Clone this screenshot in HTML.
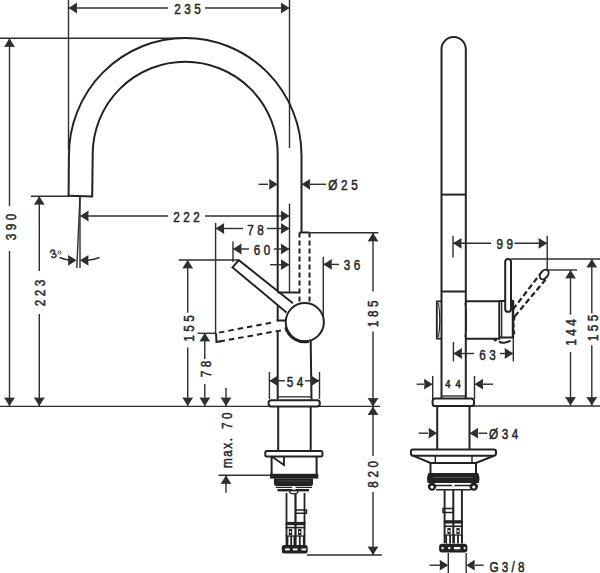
<!DOCTYPE html>
<html><head><meta charset="utf-8"><style>
html,body{margin:0;padding:0;background:#fff;width:600px;height:573px;overflow:hidden}
svg{display:block}
.t{font-family:"Liberation Sans",sans-serif;fill:#262626;stroke:#262626;stroke-width:0.5px}
</style></head><body>
<svg width="600" height="573" viewBox="0 0 600 573" stroke-linecap="butt">
<line x1="68.5" y1="0" x2="68.5" y2="150" stroke="#2e2e2e" stroke-width="1.4" />
<line x1="289.5" y1="0" x2="289.5" y2="148" stroke="#2e2e2e" stroke-width="1.4" />
<line x1="68.5" y1="8" x2="168" y2="8" stroke="#2e2e2e" stroke-width="1.4" />
<line x1="205" y1="8" x2="289.5" y2="8" stroke="#2e2e2e" stroke-width="1.4" />
<path d="M68.50,8.00 L77.10,2.60 L76.84,8.00 L77.10,13.40 Z" fill="#2e2e2e"/>
<path d="M289.50,8.00 L280.90,13.40 L281.16,8.00 L280.90,2.60 Z" fill="#2e2e2e"/>
<g transform="translate(187.5,8.5) scale(0.85,1)"><text x="2.10" y="0.8" class="t" text-anchor="middle" dominant-baseline="central" style="font-size:13.8px;letter-spacing:4.2px">235</text></g>
<line x1="0" y1="38.3" x2="185" y2="38.3" stroke="#2e2e2e" stroke-width="1.4" />
<line x1="9.5" y1="38.3" x2="9.5" y2="206" stroke="#2e2e2e" stroke-width="1.4" />
<line x1="9.5" y1="251" x2="9.5" y2="406" stroke="#2e2e2e" stroke-width="1.4" />
<path d="M9.50,38.30 L14.90,46.90 L9.50,46.64 L4.10,46.90 Z" fill="#2e2e2e"/>
<path d="M9.50,406.00 L4.10,397.40 L9.50,397.66 L14.90,397.40 Z" fill="#2e2e2e"/>
<g transform="translate(10.0,227) rotate(-90) scale(0.85,1)"><text x="2.10" y="0.8" class="t" text-anchor="middle" dominant-baseline="central" style="font-size:13.8px;letter-spacing:4.2px">390</text></g>
<line x1="31" y1="196.2" x2="69" y2="196.2" stroke="#2e2e2e" stroke-width="1.4" />
<line x1="39.3" y1="196.2" x2="39.3" y2="271" stroke="#2e2e2e" stroke-width="1.4" />
<line x1="39.3" y1="314" x2="39.3" y2="406" stroke="#2e2e2e" stroke-width="1.4" />
<path d="M39.30,196.20 L44.70,204.80 L39.30,204.54 L33.90,204.80 Z" fill="#2e2e2e"/>
<path d="M39.30,406.00 L33.90,397.40 L39.30,397.66 L44.70,397.40 Z" fill="#2e2e2e"/>
<g transform="translate(39.8,293) rotate(-90) scale(0.85,1)"><text x="2.10" y="0.8" class="t" text-anchor="middle" dominant-baseline="central" style="font-size:13.8px;letter-spacing:4.2px">223</text></g>
<path d="M68.6,196 L68.90,155.5 A116.3,117.5 0 0 1 301.50,155.5 L301.50,232.5" stroke="#222222" stroke-width="2.0" fill="none" />
<path d="M92.2,196.5 L92.70,154.3 A92.5,92.5 0 0 1 277.70,154.3 L277.70,292" stroke="#222222" stroke-width="2.0" fill="none" />
<line x1="277.7" y1="305.5" x2="277.7" y2="321.3" stroke="#222222" stroke-width="2.0" />
<line x1="277.7" y1="331.5" x2="277.7" y2="399.5" stroke="#222222" stroke-width="2.0" />
<line x1="68" y1="195.8" x2="93" y2="196.6" stroke="#222222" stroke-width="2.0" />
<line x1="80" y1="196" x2="80" y2="268" stroke="#2e2e2e" stroke-width="1.4" />
<line x1="80" y1="196" x2="76.8" y2="268" stroke="#2e2e2e" stroke-width="1.4" />
<path d="M80.00,216.00 L88.60,210.60 L88.34,216.00 L88.60,221.40 Z" fill="#2e2e2e"/>
<line x1="258.6" y1="184.3" x2="268" y2="184.3" stroke="#2e2e2e" stroke-width="1.4" />
<path d="M277.70,184.30 L269.10,189.70 L269.36,184.30 L269.10,178.90 Z" fill="#2e2e2e"/>
<line x1="310" y1="184.3" x2="326" y2="184.3" stroke="#2e2e2e" stroke-width="1.4" />
<path d="M301.50,184.30 L310.10,178.90 L309.84,184.30 L310.10,189.70 Z" fill="#2e2e2e"/>
<g transform="translate(343,184.5) scale(0.85,1)"><text x="2.10" y="0.8" class="t" text-anchor="middle" dominant-baseline="central" style="font-size:13.8px;letter-spacing:4.2px">Ø25</text></g>
<path d="M59.5,257.5 Q64,259 69,260.3" stroke="#2e2e2e" stroke-width="1.4" fill="none" />
<path d="M76.60,260.30 L68.00,265.70 L68.26,260.30 L68.00,254.90 Z" fill="#2e2e2e"/>
<path d="M99.5,257.5 Q94,259.5 88,260.3" stroke="#2e2e2e" stroke-width="1.4" fill="none" />
<path d="M79.90,260.30 L88.50,254.90 L88.24,260.30 L88.50,265.70 Z" fill="#2e2e2e"/>
<g transform="translate(53,253.5) rotate(-18) scale(0.95,1)"><text x="0" y="0" class="t" text-anchor="middle" dominant-baseline="central" style="font-size:12px">3</text></g>
<circle cx="59.5" cy="252.5" r="1.5" fill="none" stroke="#2e2e2e" stroke-width="0.9"/>
<line x1="88" y1="216" x2="168" y2="216" stroke="#2e2e2e" stroke-width="1.4" />
<line x1="205" y1="216" x2="289.5" y2="216" stroke="#2e2e2e" stroke-width="1.4" />
<path d="M289.50,216.00 L280.90,221.40 L281.16,216.00 L280.90,210.60 Z" fill="#2e2e2e"/>
<g transform="translate(186.5,216.5) scale(0.85,1)"><text x="2.10" y="0.8" class="t" text-anchor="middle" dominant-baseline="central" style="font-size:13.8px;letter-spacing:4.2px">222</text></g>
<line x1="289.5" y1="203.5" x2="289.5" y2="292" stroke="#2e2e2e" stroke-width="1.4" />
<line x1="215.6" y1="223" x2="215.6" y2="333.5" stroke="#2e2e2e" stroke-width="1.4" />
<line x1="215.6" y1="228.5" x2="243" y2="228.5" stroke="#2e2e2e" stroke-width="1.4" />
<line x1="267" y1="228.5" x2="289.5" y2="228.5" stroke="#2e2e2e" stroke-width="1.4" />
<path d="M215.60,228.50 L224.20,223.10 L223.94,228.50 L224.20,233.90 Z" fill="#2e2e2e"/>
<path d="M289.50,228.50 L280.90,233.90 L281.16,228.50 L280.90,223.10 Z" fill="#2e2e2e"/>
<g transform="translate(255.5,229) scale(0.85,1)"><text x="2.10" y="0.8" class="t" text-anchor="middle" dominant-baseline="central" style="font-size:13.8px;letter-spacing:4.2px">78</text></g>
<line x1="233" y1="241.6" x2="233" y2="262" stroke="#2e2e2e" stroke-width="1.4" />
<line x1="233" y1="249" x2="249" y2="249" stroke="#2e2e2e" stroke-width="1.4" />
<line x1="274" y1="249" x2="289.5" y2="249" stroke="#2e2e2e" stroke-width="1.4" />
<path d="M233.00,249.00 L241.60,243.60 L241.34,249.00 L241.60,254.40 Z" fill="#2e2e2e"/>
<path d="M289.50,249.00 L280.90,254.40 L281.16,249.00 L280.90,243.60 Z" fill="#2e2e2e"/>
<g transform="translate(262,249.5) scale(0.85,1)"><text x="2.10" y="0.8" class="t" text-anchor="middle" dominant-baseline="central" style="font-size:13.8px;letter-spacing:4.2px">60</text></g>
<line x1="270" y1="264.7" x2="289.5" y2="264.7" stroke="#2e2e2e" stroke-width="1.4" />
<path d="M289.50,264.70 L280.90,270.10 L281.16,264.70 L280.90,259.30 Z" fill="#2e2e2e"/>
<line x1="323.3" y1="256.8" x2="323.3" y2="322" stroke="#2e2e2e" stroke-width="1.4" />
<line x1="323.3" y1="264.4" x2="339" y2="264.4" stroke="#2e2e2e" stroke-width="1.4" />
<path d="M323.30,264.40 L331.90,259.00 L331.64,264.40 L331.90,269.80 Z" fill="#2e2e2e"/>
<g transform="translate(352,264.8) scale(0.85,1)"><text x="2.10" y="0.8" class="t" text-anchor="middle" dominant-baseline="central" style="font-size:13.8px;letter-spacing:4.2px">36</text></g>
<line x1="178.8" y1="260" x2="238" y2="260" stroke="#2e2e2e" stroke-width="1.4" />
<line x1="187.7" y1="260" x2="187.7" y2="312.7" stroke="#2e2e2e" stroke-width="1.4" />
<line x1="187.7" y1="347.6" x2="187.7" y2="406" stroke="#2e2e2e" stroke-width="1.4" />
<path d="M187.70,260.00 L193.10,268.60 L187.70,268.34 L182.30,268.60 Z" fill="#2e2e2e"/>
<path d="M187.70,406.00 L182.30,397.40 L187.70,397.66 L193.10,397.40 Z" fill="#2e2e2e"/>
<g transform="translate(188.2,328.5) rotate(-90) scale(0.85,1)"><text x="2.10" y="0.8" class="t" text-anchor="middle" dominant-baseline="central" style="font-size:13.8px;letter-spacing:4.2px">155</text></g>
<line x1="197.6" y1="333.3" x2="216" y2="333.3" stroke="#2e2e2e" stroke-width="1.4" />
<line x1="204.8" y1="333" x2="204.8" y2="359" stroke="#2e2e2e" stroke-width="1.4" />
<line x1="204.8" y1="384" x2="204.8" y2="406" stroke="#2e2e2e" stroke-width="1.4" />
<path d="M204.80,333.00 L210.20,341.60 L204.80,341.34 L199.40,341.60 Z" fill="#2e2e2e"/>
<path d="M204.80,406.00 L199.40,397.40 L204.80,397.66 L210.20,397.40 Z" fill="#2e2e2e"/>
<g transform="translate(205.3,369) rotate(-90) scale(0.85,1)"><text x="2.10" y="0.8" class="t" text-anchor="middle" dominant-baseline="central" style="font-size:13.8px;letter-spacing:4.2px">78</text></g>
<line x1="226" y1="388" x2="226" y2="406" stroke="#2e2e2e" stroke-width="1.4" />
<path d="M226.00,406.00 L220.60,397.40 L226.00,397.66 L231.40,397.40 Z" fill="#2e2e2e"/>
<line x1="226" y1="475.3" x2="226" y2="492.8" stroke="#2e2e2e" stroke-width="1.4" />
<path d="M226.00,475.30 L231.40,483.90 L226.00,483.64 L220.60,483.90 Z" fill="#2e2e2e"/>
<line x1="218.5" y1="475.3" x2="270" y2="475.3" stroke="#2e2e2e" stroke-width="1.4" />
<g transform="translate(226.5,453) rotate(-90) scale(0.85,1)"><text x="0.90" y="0.8" class="t" text-anchor="middle" dominant-baseline="central" style="font-size:13.8px;letter-spacing:1.8px">max.</text></g>
<g transform="translate(226.5,420.8) rotate(-90) scale(0.85,1)"><text x="2.10" y="0.8" class="t" text-anchor="middle" dominant-baseline="central" style="font-size:13.8px;letter-spacing:4.2px">70</text></g>
<line x1="310" y1="232.8" x2="378.4" y2="232.8" stroke="#2e2e2e" stroke-width="1.4" />
<line x1="373" y1="232.8" x2="373" y2="291.5" stroke="#2e2e2e" stroke-width="1.4" />
<line x1="373" y1="331.5" x2="373" y2="406.5" stroke="#2e2e2e" stroke-width="1.4" />
<path d="M373.00,232.80 L378.40,241.40 L373.00,241.14 L367.60,241.40 Z" fill="#2e2e2e"/>
<path d="M373.00,406.50 L367.60,397.90 L373.00,398.16 L378.40,397.90 Z" fill="#2e2e2e"/>
<g transform="translate(372.5,313.8) rotate(-90) scale(0.85,1)"><text x="2.10" y="0.8" class="t" text-anchor="middle" dominant-baseline="central" style="font-size:13.8px;letter-spacing:4.2px">185</text></g>
<line x1="373" y1="406.5" x2="373" y2="456" stroke="#2e2e2e" stroke-width="1.4" />
<line x1="373" y1="492" x2="373" y2="555" stroke="#2e2e2e" stroke-width="1.4" />
<path d="M373.00,406.50 L378.40,415.10 L373.00,414.84 L367.60,415.10 Z" fill="#2e2e2e"/>
<path d="M373.00,555.00 L367.60,546.40 L373.00,546.66 L378.40,546.40 Z" fill="#2e2e2e"/>
<g transform="translate(372.8,474.3) rotate(-90) scale(0.85,1)"><text x="2.10" y="0.8" class="t" text-anchor="middle" dominant-baseline="central" style="font-size:13.8px;letter-spacing:4.2px">820</text></g>
<line x1="307" y1="555" x2="381.8" y2="555" stroke="#2e2e2e" stroke-width="1.4" />
<line x1="0" y1="406.4" x2="380" y2="406.4" stroke="#2e2e2e" stroke-width="1.4" />
<line x1="433" y1="406.0" x2="600" y2="406.0" stroke="#2e2e2e" stroke-width="1.4" />
<path d="M292.9,303.2 L238.8,260.1 L232.5,267.4 L286.5,312.4" stroke="#222222" stroke-width="2.0" fill="#fff" />
<path d="M299.5,232.5 L309.5,232.5" stroke="#222222" stroke-width="2.0" fill="none" />
<line x1="299.5" y1="232.5" x2="299.5" y2="303" stroke="#222222" stroke-width="2.0" stroke-dasharray="5,3"/>
<line x1="309.5" y1="232.5" x2="309.5" y2="303" stroke="#222222" stroke-width="2.0" stroke-dasharray="5,3"/>
<line x1="277.5" y1="292.5" x2="299.5" y2="292.5" stroke="#222222" stroke-width="2.0" />
<line x1="216" y1="333.2" x2="274" y2="322.2" stroke="#222222" stroke-width="2.0" stroke-dasharray="5.5,4" stroke-dashoffset="-3"/>
<line x1="216.5" y1="342" x2="286" y2="329.5" stroke="#222222" stroke-width="2.0" stroke-dasharray="5.5,4" stroke-dashoffset="-3"/>
<path d="M216,333.2 L216.5,342 L222,341" stroke="#222222" stroke-width="2.0" fill="none" />
<circle cx="304.8" cy="322.1" r="19.1" fill="#fff" stroke="#222222" stroke-width="2.0"/>
<path d="M285.58,327.25 A19.9,19.9 0 0 0 308.94,341.57" stroke="#222222" stroke-width="2.6" fill="none" />
<line x1="310.7" y1="341" x2="311.5" y2="399.5" stroke="#222222" stroke-width="2.0" />
<line x1="276.8" y1="320.5" x2="286" y2="320.5" stroke="#222222" stroke-width="2.0" />
<line x1="269.4" y1="372" x2="269.4" y2="399" stroke="#2e2e2e" stroke-width="1.4" />
<line x1="319.5" y1="372" x2="319.5" y2="399" stroke="#2e2e2e" stroke-width="1.4" />
<line x1="269.4" y1="380.8" x2="285" y2="380.8" stroke="#2e2e2e" stroke-width="1.4" />
<line x1="305" y1="380.8" x2="319.5" y2="380.8" stroke="#2e2e2e" stroke-width="1.4" />
<path d="M269.40,380.80 L278.00,375.40 L277.74,380.80 L278.00,386.20 Z" fill="#2e2e2e"/>
<path d="M319.50,380.80 L310.90,386.20 L311.16,380.80 L310.90,375.40 Z" fill="#2e2e2e"/>
<g transform="translate(295,381.3) scale(0.85,1)"><text x="2.10" y="0.8" class="t" text-anchor="middle" dominant-baseline="central" style="font-size:13.8px;letter-spacing:4.2px">54</text></g>
<rect x="268.6" y="400.2" width="51.2" height="6.2" rx="2.6" fill="#fff" stroke="#222222" stroke-width="2.0"/>
<line x1="277.5" y1="396.8" x2="311.3" y2="396.8" stroke="#222222" stroke-width="1.3" />
<line x1="278.2" y1="406.4" x2="278.2" y2="450.5" stroke="#222222" stroke-width="2.0" />
<line x1="310.7" y1="406.4" x2="310.7" y2="450.5" stroke="#222222" stroke-width="2.0" />
<rect x="265.3" y="451" width="57.1" height="5.4" rx="1.5" fill="#fff" stroke="#222222" stroke-width="2.0"/>
<path d="M271.6,456.4 L271.6,474.5 M316.6,456.4 L316.6,474.5" stroke="#222222" stroke-width="2.0" fill="none" />
<path d="M271.8,456.6 L284,465 L284,456.6" stroke="#222222" stroke-width="1.8" fill="none" />
<rect x="270" y="473.8" width="48.3" height="4.8" fill="#222222"/>
<path d="M274,478.4 L313,478.4 L313,483.5 Q313,486 310.5,486 L276.5,486 Q274,486 274,483.5 Z" stroke="#222222" stroke-width="0" fill="#222222" />
<rect x="277" y="480.6" width="33" height="0.8" fill="#4a4a4a"/>
<line x1="275.7" y1="487.3" x2="312" y2="487.3" stroke="#222222" stroke-width="1.3" />
<rect x="277.5" y="489" width="31.5" height="2.4" fill="#222222"/>
<rect x="292.2" y="486.2" width="3.4" height="3.4" fill="#fff"/>
<path d="M289.5,491.3 Q289.5,493.8 293.8,493.8 Q298,493.8 298,491.3" stroke="#222222" stroke-width="1.3" fill="none" />
<line x1="286.5" y1="493" x2="286.5" y2="545" stroke="#222222" stroke-width="1.8" />
<line x1="295.5" y1="493" x2="295.5" y2="545" stroke="#222222" stroke-width="2.2" />
<line x1="304.5" y1="493" x2="304.5" y2="545" stroke="#222222" stroke-width="1.8" />
<path d="M295.5,510 L306.5,510 L306.5,513.2 L295.5,513.2" stroke="#222222" stroke-width="1.4" fill="none" />
<rect x="285.6" y="521.9" width="19.8" height="3.3" fill="#222222"/>
<rect x="285.6" y="526.8" width="19.8" height="1.6" fill="#222222"/>
<rect x="288.8" y="529" width="3.4" height="6.2" fill="#222222"/>
<circle cx="290.5" cy="532" r="0.9" fill="#fff"/>
<rect x="298.0" y="529" width="3.4" height="6.2" fill="#222222"/>
<circle cx="299.7" cy="532" r="0.9" fill="#fff"/>
<line x1="285.6" y1="536" x2="305.4" y2="536" stroke="#222222" stroke-width="1.3" />
<rect x="286.6" y="536" width="1.8" height="9" fill="#222222"/>
<rect x="290.3" y="536" width="1.8" height="9" fill="#222222"/>
<rect x="293.5" y="536" width="1.8" height="9" fill="#222222"/>
<rect x="298.9" y="536" width="1.8" height="9" fill="#222222"/>
<rect x="302.9" y="536" width="1.8" height="9" fill="#222222"/>
<rect x="281.8" y="545" width="25.9" height="8.4" rx="2.5" fill="#222222"/>
<rect x="285" y="548.5" width="4.7" height="1.9" fill="#fff"/>
<rect x="292.8" y="548.5" width="4.7" height="1.9" fill="#fff"/>
<rect x="301.4" y="548.5" width="4.7" height="1.9" fill="#fff"/>
<path d="M441.5,398.6 L441.5,49.2 A12.15,12.15 0 0 1 465.8,49.2 L465.8,398.6" stroke="#222222" stroke-width="2.0" fill="none" />
<line x1="441.5" y1="194.6" x2="465.8" y2="194.6" stroke="#222222" stroke-width="2.0" />
<line x1="441.5" y1="291.5" x2="465.8" y2="291.5" stroke="#222222" stroke-width="2.0" />
<path d="M442,301.3 L436.8,301.3 L436.8,338.7 L442,338.7" stroke="#222222" stroke-width="1.8" fill="none" />
<path d="M438.5,303 Q441,320 438.5,337" stroke="#222222" stroke-width="1.1" fill="none" />
<path d="M465,303 Q468,320 465,337" stroke="#222222" stroke-width="1.1" fill="none" />
<path d="M465,301.3 L499.3,301.3 L499.3,338.7 L465,338.7" stroke="#222222" stroke-width="2.0" fill="none" />
<path d="M499.3,301 L513,301 L513,337.5 L499.3,337.5" stroke="#222222" stroke-width="2.0" fill="none" />
<line x1="513" y1="301" x2="513" y2="337.5" stroke="#222222" stroke-width="2.5" />
<line x1="501.7" y1="301" x2="501.7" y2="337.5" stroke="#222222" stroke-width="1.3" />
<rect x="505.2" y="258.9" width="5.8" height="52.9" rx="2.9" fill="#fff" stroke="#222222" stroke-width="2.0"/>
<line x1="513" y1="309.3" x2="541.9" y2="271.8" stroke="#222222" stroke-width="2.2" stroke-dasharray="5.5,3"/>
<line x1="514.8" y1="316.3" x2="546.2" y2="278.8" stroke="#222222" stroke-width="2.2" stroke-dasharray="5.5,3"/>
<path d="M514.8,316.3 Q512.5,326 514.5,334" stroke="#222222" stroke-width="2.0" fill="none" stroke-dasharray="4,3"/>
<ellipse cx="544.2" cy="274.5" rx="3.6" ry="5.4" transform="rotate(38 544.2 274.5)" fill="#fff" stroke="#222222" stroke-width="2"/>
<path d="M499,341.2 Q501,343.3 505,342.6 Q508,342 510.5,340.6" stroke="#222222" stroke-width="2.0" fill="none" />
<circle cx="495.3" cy="339.8" r="1.8" fill="#222222"/>
<line x1="453" y1="235.8" x2="453" y2="257.5" stroke="#2e2e2e" stroke-width="1.4" />
<line x1="547.2" y1="235.8" x2="547.2" y2="270" stroke="#2e2e2e" stroke-width="1.4" />
<line x1="453" y1="243.3" x2="491" y2="243.3" stroke="#2e2e2e" stroke-width="1.4" />
<line x1="514.5" y1="243.3" x2="547.2" y2="243.3" stroke="#2e2e2e" stroke-width="1.4" />
<path d="M453.00,243.30 L461.60,237.90 L461.34,243.30 L461.60,248.70 Z" fill="#2e2e2e"/>
<path d="M547.20,243.30 L538.60,248.70 L538.86,243.30 L538.60,237.90 Z" fill="#2e2e2e"/>
<g transform="translate(504.7,243.8) scale(0.85,1)"><text x="2.10" y="0.8" class="t" text-anchor="middle" dominant-baseline="central" style="font-size:13.8px;letter-spacing:4.2px">99</text></g>
<line x1="511" y1="259" x2="600" y2="259" stroke="#2e2e2e" stroke-width="1.4" />
<line x1="547" y1="270" x2="577" y2="270" stroke="#2e2e2e" stroke-width="1.4" />
<line x1="591.8" y1="259" x2="591.8" y2="313.3" stroke="#2e2e2e" stroke-width="1.4" />
<line x1="591.8" y1="345.3" x2="591.8" y2="405.5" stroke="#2e2e2e" stroke-width="1.4" />
<path d="M591.80,259.00 L597.20,267.60 L591.80,267.34 L586.40,267.60 Z" fill="#2e2e2e"/>
<path d="M591.80,405.50 L586.40,396.90 L591.80,397.16 L597.20,396.90 Z" fill="#2e2e2e"/>
<g transform="translate(592.3,328) rotate(-90) scale(0.85,1)"><text x="2.10" y="0.8" class="t" text-anchor="middle" dominant-baseline="central" style="font-size:13.8px;letter-spacing:4.2px">155</text></g>
<line x1="570.5" y1="270" x2="570.5" y2="314.7" stroke="#2e2e2e" stroke-width="1.4" />
<line x1="570.5" y1="352" x2="570.5" y2="405.5" stroke="#2e2e2e" stroke-width="1.4" />
<path d="M570.50,270.00 L575.90,278.60 L570.50,278.34 L565.10,278.60 Z" fill="#2e2e2e"/>
<path d="M570.50,405.50 L565.10,396.90 L570.50,397.16 L575.90,396.90 Z" fill="#2e2e2e"/>
<g transform="translate(570.3,332.5) rotate(-90) scale(0.85,1)"><text x="2.10" y="0.8" class="t" text-anchor="middle" dominant-baseline="central" style="font-size:13.8px;letter-spacing:4.2px">144</text></g>
<line x1="453.4" y1="342" x2="453.4" y2="361.5" stroke="#2e2e2e" stroke-width="1.4" />
<line x1="513.3" y1="338" x2="513.3" y2="361.5" stroke="#2e2e2e" stroke-width="1.4" />
<line x1="453.4" y1="353.5" x2="474" y2="353.5" stroke="#2e2e2e" stroke-width="1.4" />
<line x1="500" y1="353.5" x2="513.3" y2="353.5" stroke="#2e2e2e" stroke-width="1.4" />
<path d="M453.40,353.50 L462.00,348.10 L461.74,353.50 L462.00,358.90 Z" fill="#2e2e2e"/>
<path d="M513.30,353.50 L504.70,358.90 L504.96,353.50 L504.70,348.10 Z" fill="#2e2e2e"/>
<g transform="translate(487.5,354) scale(0.85,1)"><text x="2.10" y="0.8" class="t" text-anchor="middle" dominant-baseline="central" style="font-size:13.8px;letter-spacing:4.2px">63</text></g>
<line x1="416.7" y1="384.2" x2="424" y2="384.2" stroke="#2e2e2e" stroke-width="1.4" />
<path d="M432.70,384.20 L424.10,389.60 L424.36,384.20 L424.10,378.80 Z" fill="#2e2e2e"/>
<line x1="483" y1="384.2" x2="493" y2="384.2" stroke="#2e2e2e" stroke-width="1.4" />
<path d="M474.50,384.20 L483.10,378.80 L482.84,384.20 L483.10,389.60 Z" fill="#2e2e2e"/>
<line x1="432.7" y1="376" x2="432.7" y2="399" stroke="#2e2e2e" stroke-width="1.4" />
<line x1="474.5" y1="376" x2="474.5" y2="399" stroke="#2e2e2e" stroke-width="1.4" />
<g transform="translate(453,383.3) scale(0.9,1)"><text x="2.65" y="0.8" class="t" text-anchor="middle" dominant-baseline="central" style="font-size:10.5px;letter-spacing:5.3px">44</text></g>
<rect x="432.6" y="398.6" width="41.4" height="7.4" rx="2.6" fill="#fff" stroke="#222222" stroke-width="2.0"/>
<line x1="441.5" y1="396" x2="465.8" y2="396" stroke="#222222" stroke-width="1.3" />
<line x1="437.2" y1="405.7" x2="437.2" y2="450" stroke="#222222" stroke-width="2.0" />
<line x1="469.5" y1="405.7" x2="469.5" y2="450" stroke="#222222" stroke-width="2.0" />
<line x1="418.6" y1="433.2" x2="428" y2="433.2" stroke="#2e2e2e" stroke-width="1.4" />
<path d="M437.20,433.20 L428.60,438.60 L428.86,433.20 L428.60,427.80 Z" fill="#2e2e2e"/>
<line x1="478.5" y1="433.2" x2="487.4" y2="433.2" stroke="#2e2e2e" stroke-width="1.4" />
<path d="M469.50,433.20 L478.10,427.80 L477.84,433.20 L478.10,438.60 Z" fill="#2e2e2e"/>
<g transform="translate(503.7,433.4) scale(0.85,1)"><text x="2.10" y="0.8" class="t" text-anchor="middle" dominant-baseline="central" style="font-size:13.8px;letter-spacing:4.2px">Ø34</text></g>
<path d="M413,449.4 L494,449.4 Q496,449.4 496,451.5 L496,453.6 Q496,455.7 494,455.7 L413,455.7 Q410.9,455.7 410.9,453.6 L410.9,451.5 Q410.9,449.4 413,449.4 Z" stroke="#222222" stroke-width="2.0" fill="none" />
<path d="M413,455.7 L430.5,463 L476,463 L494,455.7" stroke="#222222" stroke-width="2.0" fill="none" />
<line x1="435.3" y1="455.7" x2="435.3" y2="463" stroke="#222222" stroke-width="1.4" />
<line x1="472" y1="455.7" x2="472" y2="463" stroke="#222222" stroke-width="1.4" />
<line x1="430.5" y1="463" x2="430.5" y2="474" stroke="#222222" stroke-width="2.0" />
<line x1="476" y1="463" x2="476" y2="474" stroke="#222222" stroke-width="2.0" />
<path d="M428.5,473 L478,473 Q480.5,477.5 478.8,483 L427.7,483 Q426,477.5 428.5,473 Z" stroke="#222222" stroke-width="0" fill="#222222" />
<rect x="433" y="477" width="40" height="1.0" fill="#555"/>
<circle cx="432" cy="486.6" r="4.2" fill="#222222"/>
<circle cx="473.8" cy="486.6" r="4.2" fill="#222222"/>
<circle cx="432" cy="487" r="1.6" fill="#fff"/>
<circle cx="473.8" cy="487" r="1.6" fill="#fff"/>
<line x1="435" y1="485.6" x2="471" y2="485.6" stroke="#222222" stroke-width="1.5" />
<line x1="436" y1="489.8" x2="471" y2="489.8" stroke="#222222" stroke-width="1.4" />
<circle cx="453.3" cy="484.9" r="1.4" fill="#fff"/>
<line x1="444.6" y1="490" x2="444.6" y2="543" stroke="#222222" stroke-width="1.9" />
<line x1="453.3" y1="490" x2="453.3" y2="543" stroke="#222222" stroke-width="2.0" />
<line x1="461.9" y1="490" x2="461.9" y2="543" stroke="#222222" stroke-width="1.9" />
<path d="M443,508.5 L453.3,508.5 L453.3,512.4 L443,512.4 Z" stroke="#222222" stroke-width="1.5" fill="none" />
<rect x="443.8" y="520.2" width="19" height="3.3" fill="#222222"/>
<rect x="443.8" y="525.5" width="19" height="1.6" fill="#222222"/>
<rect x="447.4" y="528" width="3.2" height="6" fill="#222222"/>
<circle cx="449" cy="531" r="0.9" fill="#fff"/>
<rect x="456.4" y="528" width="3.2" height="6" fill="#222222"/>
<circle cx="458" cy="531" r="0.9" fill="#fff"/>
<line x1="443.8" y1="535" x2="462.8" y2="535" stroke="#222222" stroke-width="1.3" />
<rect x="445.3" y="535" width="1.8" height="8.5" fill="#222222"/>
<rect x="449.2" y="535" width="1.8" height="8.5" fill="#222222"/>
<rect x="453.1" y="535" width="1.8" height="8.5" fill="#222222"/>
<rect x="457.1" y="535" width="1.8" height="8.5" fill="#222222"/>
<rect x="461.0" y="535" width="1.8" height="8.5" fill="#222222"/>
<rect x="439.1" y="543.8" width="28.3" height="8.6" rx="3" fill="#222222"/>
<circle cx="442.6" cy="548.1" r="1.2" fill="#fff"/>
<circle cx="449.3" cy="548.1" r="1.2" fill="#fff"/>
<rect x="454" y="547" width="6.3" height="2.3" fill="#fff"/>
<circle cx="464.6" cy="548.1" r="1.1" fill="#fff"/>
<line x1="448.3" y1="553" x2="448.3" y2="573" stroke="#2e2e2e" stroke-width="1.4" />
<line x1="466.2" y1="553" x2="466.2" y2="573" stroke="#2e2e2e" stroke-width="1.4" />
<line x1="429.7" y1="565.2" x2="440" y2="565.2" stroke="#2e2e2e" stroke-width="1.4" />
<path d="M448.30,565.20 L439.70,570.60 L439.96,565.20 L439.70,559.80 Z" fill="#2e2e2e"/>
<line x1="475" y1="565.2" x2="483.6" y2="565.2" stroke="#2e2e2e" stroke-width="1.4" />
<path d="M466.20,565.20 L474.80,559.80 L474.54,565.20 L474.80,570.60 Z" fill="#2e2e2e"/>
<g transform="translate(507,566.6) scale(0.85,1)"><text x="1.85" y="0.8" class="t" text-anchor="middle" dominant-baseline="central" style="font-size:13.8px;letter-spacing:3.7px">G3/8</text></g>
</svg>
</body></html>
